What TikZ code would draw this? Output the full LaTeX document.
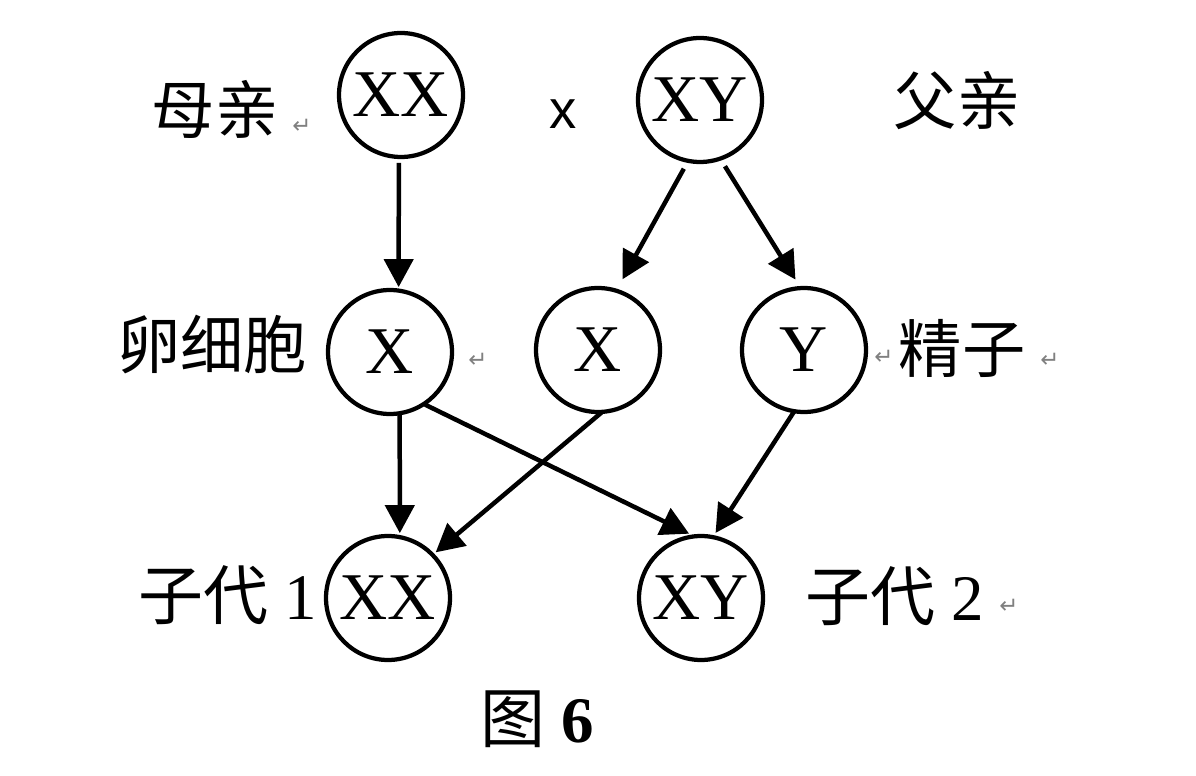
\documentclass[tikz,border=0pt]{standalone}
\usepackage{fontspec}
\setmainfont{Liberation Serif}
\newfontfamily\cjk{Noto Sans CJK SC}
\newfontfamily\symb{DejaVu Sans}
\newfontfamily\sansx{Liberation Sans}
\usetikzlibrary{arrows.meta}
\begin{document}
\begin{tikzpicture}[x=0.02cm,y=-0.02cm,
  gene/.style={circle,draw,line width=0.085cm,minimum size=2.48cm,inner sep=0pt,outer sep=0pt,
    font=\fontsize{38}{40}\selectfont},
  lbl/.style={inner sep=0pt,font=\cjk\fontsize{36}{40}\selectfont},
  parmark/.style={inner sep=0pt,text=gray,font=\symb\fontsize{13}{14}\selectfont},
  link/.style={line width=0.09cm,-{Triangle[length=0.56cm,width=0.58cm]}}]
  \useasboundingbox (0,0) rectangle (1196,776);

  % parents
  \node[gene] (mom) at (401,95) {XX};
  \node[gene] (dad) at (700,100) {XY};
  % gametes
  \node[gene] (egg) at (390,352) {X};
  \node[gene] (spx) at (598,350) {X};
  \node[gene] (spy) at (804,350) {Y};
  % offspring
  \node[gene] (kid1) at (388,598) {XX};
  \node[gene] (kid2) at (701,598) {XY};

  % labels
  \node[lbl] (lmom) at (215,110) {母亲};
  \node[inner sep=0pt,font=\sansx\fontsize{31}{34}\selectfont] (cross) at (563,114) {x};
  \node[lbl] (ldad) at (957,101) {父亲};
  \node[lbl] (legg) at (212,345) {卵细胞};
  \node[lbl] (lsperm) at (962,348) {精子};
  \node[inner sep=0pt,font=\fontsize{37}{40}\selectfont] (lkid1) at (228,595) {{\cjk 子代}~1};
  \node[inner sep=0pt,font=\fontsize{37}{40}\selectfont] (lkid2) at (895,596) {{\cjk 子代}~2};
  \node[inner sep=0pt,font=\fontsize{37}{40}\selectfont] (caption) at (537,719) {{\cjk 图}~\textbf{6}};

  % paragraph marks
  \node[parmark] (pm1) at (302,126) {↵};
  \node[parmark] (pm2) at (478,360) {↵};
  \node[parmark] (pm3) at (884,357) {↵};
  \node[parmark] (pm4) at (1050,360) {↵};
  \node[parmark] (pm5) at (1009,606) {↵};

  % inheritance arrows
  \draw[link,shorten <=0.12cm,shorten >=0.07cm] (mom.268) -- (egg.82);
  \draw[link,shorten <=0.18cm,shorten >=0.26cm] (dad.259.5) -- (spx.73);
  \draw[link,shorten <=0.18cm,shorten >=0.20cm] (dad.289) -- (spy.93);
  \draw[link,shorten >=0.08cm] (egg.279) -- (kid1.79.5);
  \draw[link,shorten <=0.03cm,shorten >=0.12cm] (egg.303.4) -- (kid2.96.7);
  \draw[link,shorten <=0.02cm,shorten >=0.08cm] (spx.274.5) -- (kid1.44.4);
  \draw[link,shorten >=0.10cm] (spy.261.7) -- (kid2.79.7);
\end{tikzpicture}
\end{document}
